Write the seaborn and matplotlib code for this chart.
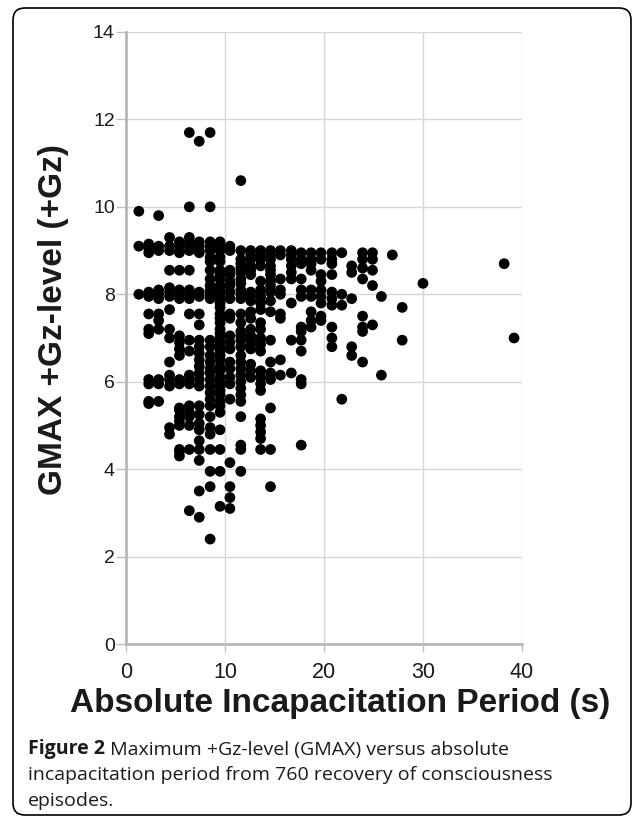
import pandas as pd
import matplotlib.pyplot as plt
import seaborn as sns
from matplotlib.patches import FancyBboxPatch

# incapacitation period columns (s) and the GMAX values read in each column
col_x = [1.3, 2.3, 3.3, 4.4, 5.4, 6.4, 7.4, 8.5, 9.5, 10.5, 11.6, 12.6, 13.6, 14.6,
         15.6, 16.7, 17.7, 18.7, 19.7, 20.8, 21.8, 22.8, 23.9, 24.9, 25.8, 26.9,
         27.9, 30.0, 38.2, 39.2]

gmax_cols = [
    [9.9, 9.1, 8.0],
    [9.15, 9.05, 8.95, 8.05, 7.95, 7.55, 7.2, 7.1, 6.05, 5.95, 5.55, 5.5],
    [9.8, 9.1, 9.0, 8.1, 8.0, 7.9, 7.55, 7.4, 7.2, 6.05, 5.95, 5.55],
    [9.3, 9.1, 9.0, 8.55, 8.15, 8.05, 7.95, 7.65, 7.2, 7.0, 6.45, 6.15, 6.05, 5.9,
     4.95, 4.8],
    [9.2, 9.1, 8.95, 8.55, 8.1, 8.0, 7.9, 7.05, 6.9, 6.75, 6.6, 6.05, 5.95, 5.4,
     5.35, 5.2, 5.1, 5.0, 4.45, 4.4, 4.3],
    [11.7, 10.0, 9.3, 9.2, 9.1, 9.0, 8.55, 8.1, 8.0, 7.9, 7.55, 6.95, 6.7, 6.15,
     6.05, 5.95, 5.45, 5.3, 5.2, 5.0, 4.45, 3.05],
    [11.5, 9.2, 9.1, 9.0, 8.95, 8.05, 7.95, 7.55, 7.3, 6.95, 6.8, 6.65, 6.5, 6.35,
     6.2, 6.05, 5.9, 5.45, 5.25, 5.05, 4.9, 4.65, 4.45, 4.2, 3.5, 2.9],
    [11.7, 10.0, 9.2, 9.1, 9.0, 8.85, 8.75, 8.55, 8.35, 8.2, 8.1, 8.0, 7.9, 6.95,
     6.8, 6.6, 6.45, 6.3, 6.2, 6.05, 5.9, 5.75, 5.6, 5.45, 5.2, 4.95, 4.8, 4.45,
     3.95, 3.6, 2.4],
    [9.2, 9.1, 9.0, 8.85, 8.75, 8.55, 8.45, 8.35, 8.2, 8.1, 8.0, 7.9, 7.8, 7.7,
     7.55, 7.45, 7.35, 7.2, 7.1, 7.0, 6.9, 6.8, 6.7, 6.6, 6.5, 6.35, 6.25, 6.1,
     6.0, 5.9, 5.8, 5.7, 5.55, 5.45, 5.3, 4.9, 4.45, 3.95, 3.15],
    [9.1, 9.0, 8.55, 8.45, 8.3, 8.2, 8.05, 7.9, 7.55, 7.45, 7.05, 6.9, 6.75, 6.45,
     6.3, 6.1, 5.95, 5.6, 4.15, 3.6, 3.35, 3.1],
    [10.6, 9.0, 8.8, 8.7, 8.6, 8.5, 8.35, 8.25, 8.1, 8.0, 7.9, 7.55, 7.35, 7.15,
     7.05, 6.95, 6.8, 6.6, 6.45, 6.3, 6.15, 6.0, 5.85, 5.7, 5.55, 5.2, 4.55, 4.45,
     3.95],
    [9.0, 8.9, 8.8, 8.65, 8.55, 8.45, 8.05, 7.95, 7.85, 7.6, 7.45, 7.2, 7.05, 6.95,
     6.85, 6.75, 6.4, 6.25, 6.1],
    [9.0, 8.9, 8.8, 8.65, 8.3, 8.1, 7.95, 7.8, 7.65, 7.35, 7.2, 7.0, 6.85, 6.7,
     6.25, 6.1, 5.95, 5.8, 5.15, 5.0, 4.85, 4.7, 4.45],
    [9.0, 8.9, 8.8, 8.65, 8.55, 8.45, 8.3, 8.2, 8.05, 7.85, 7.6, 6.95, 6.45, 6.2,
     6.05, 5.4, 4.45, 3.6],
    [9.0, 8.9, 8.35, 8.1, 8.0, 7.55, 7.45, 6.5, 6.15],
    [9.0, 8.9, 8.8, 8.65, 8.5, 8.35, 7.8, 6.95, 6.2],
    [8.95, 8.8, 8.7, 8.35, 8.1, 7.95, 7.25, 7.15, 6.95, 6.7, 6.05, 5.95, 4.55],
    [8.95, 8.8, 8.7, 8.55, 8.1, 7.95, 7.6, 7.4, 7.25],
    [8.95, 8.8, 8.45, 8.3, 8.1, 7.95, 7.8, 7.5, 7.4],
    [8.95, 8.8, 8.7, 8.45, 8.05, 7.9, 7.75, 7.25, 7.0, 6.8],
    [8.95, 8.0, 7.75, 5.6],
    [8.65, 8.5, 7.9, 6.8, 6.6],
    [8.95, 8.8, 8.6, 8.35, 7.5, 7.25, 7.15, 6.45],
    [8.95, 8.8, 8.55, 8.2, 7.3],
    [7.95, 6.15],
    [8.9],
    [7.7, 6.95],
    [8.25],
    [8.7],
    [7.0],
]

x_ticks = [0, 10, 20, 30, 40]
y_ticks = [0, 2, 4, 6, 8, 10, 12, 14]

rows = [(x, g) for x, gs in zip(col_x, gmax_cols) for g in gs]
df = pd.DataFrame(rows, columns=["period", "gmax"])

sns.set_theme(style="whitegrid")
plt.rcParams['font.family'] = ['Liberation Sans', 'DejaVu Sans']

fig = plt.figure(figsize=(6.34, 8.18), dpi=100)
ax = fig.add_axes([0.1987, 0.2127, 0.6246, 0.7482])

sns.scatterplot(data=df, x="period", y="gmax", color="black", s=60,
                edgecolor="none", ax=ax)

ax.set_xlim(0, 40)
ax.set_ylim(0, 14)
ax.set_xticks(x_ticks)
ax.set_yticks(y_ticks)
ax.set_xlabel("")
ax.set_ylabel("")
ax.grid(True, color="#d6d6d6", linewidth=1.0)
ax.set_facecolor("white")
for side in ["top", "right"]:
    ax.spines[side].set_visible(False)
for side in ["left", "bottom"]:
    ax.spines[side].set_color("#b8b8b8")
    ax.spines[side].set_linewidth(2.0)
ax.tick_params(axis="y", length=7, width=1, color="#c0c0c0", pad=1,
               labelsize=14, labelcolor="#1a1a1a", left=True)
ax.tick_params(axis="x", length=6, width=1, color="#c0c0c0", pad=7,
               labelsize=15.5, labelcolor="#1a1a1a", bottom=True)

# axis titles
fig.text(54 / 634, 1 - 320 / 818, "GMAX +Gz-level (+Gz)", rotation=90,
         ha="center", va="center", fontsize=24, fontweight="bold",
         color="#1a1a1a")
fig.text(340 / 634, 1 - 712 / 818, "Absolute Incapacitation Period (s)",
         ha="center", va="baseline", fontsize=24, fontweight="bold",
         color="#1a1a1a")

# caption
cap_font = ['Open Sans', 'DejaVu Sans']
t = fig.text(28 / 634, 1 - 754 / 818, "Figure 2", family=cap_font,
             fontsize=14, fontweight="bold", color="#1a1a1a", va="baseline")
ax.annotate(" Maximum +Gz-level (GMAX) versus absolute", xy=(1, 0),
            xycoords=t, va="bottom", ha="left", family=cap_font,
            fontsize=14, color="#1a1a1a", annotation_clip=False)
fig.text(28 / 634, 1 - 780 / 818,
         "incapacitation period from 760 recovery of consciousness",
         family=cap_font, fontsize=14, color="#1a1a1a", va="baseline")
fig.text(28 / 634, 1 - 806 / 818, "episodes.", family=cap_font,
         fontsize=14, color="#1a1a1a", va="baseline")

# rounded frame round the figure
frame = FancyBboxPatch((0.13, 0.03), 6.18, 8.07,
                       boxstyle="round,pad=0,rounding_size=0.12",
                       transform=fig.dpi_scale_trans, facecolor="none",
                       edgecolor="black", linewidth=1.2)
fig.patches.append(frame)

fig.savefig("out.png", dpi=100)
